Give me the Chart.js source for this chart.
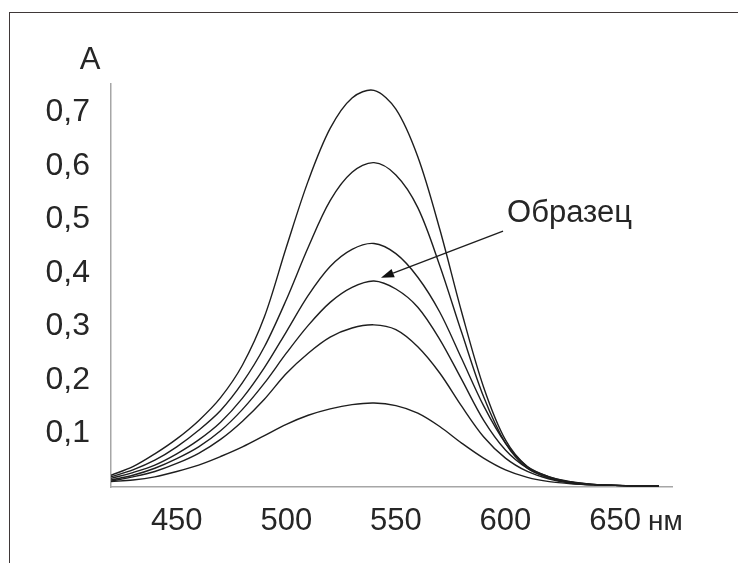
<!DOCTYPE html>
<html>
<head>
<meta charset="utf-8">
<script src="https://cdn.jsdelivr.net/npm/chart.js@4.4.1/dist/chart.umd.min.js"></script>
<style>
    body { margin: 0; background: #fff; }
    #wrap { position: relative; width: 738px; height: 563px; overflow: hidden; }
    #frame {
        position: absolute; left: 9px; top: 12px; width: 740px; height: 560px;
        border-top: 1.5px solid #3f3838; border-left: 1.5px solid #3f3838;
    }
    #spectra { position: absolute; left: 0; top: 0; }
</style>
</head>
<body>
<div id="wrap">
    <div id="frame"></div>
    <canvas id="spectra" width="738" height="563"></canvas>
</div>
<script>
// wavelength, nm
let wavelengths = [420, 430, 440, 450, 460, 470, 480, 490, 500, 510, 520, 530, 540,
    550, 560, 570, 580, 590, 600, 610, 620, 630, 640, 650, 660, 670]

// absorbance curves, top to bottom (curve4 is the sample)
let curve1 = [0.022, 0.038, 0.062, 0.090, 0.124, 0.167, 0.228, 0.318, 0.448, 0.572, 0.670, 0.727, 0.741,
    0.706, 0.617, 0.482, 0.327, 0.187, 0.088, 0.038, 0.019, 0.010, 0.005, 0.003, 0.002, 0.002]
let curve2 = [0.019, 0.032, 0.050, 0.075, 0.106, 0.143, 0.195, 0.262, 0.350, 0.448, 0.535, 0.588, 0.606,
    0.583, 0.522, 0.414, 0.289, 0.169, 0.082, 0.035, 0.017, 0.009, 0.005, 0.003, 0.002, 0.002]
let curve3 = [0.016, 0.027, 0.041, 0.062, 0.088, 0.121, 0.166, 0.223, 0.290, 0.358, 0.412, 0.444, 0.455,
    0.436, 0.392, 0.327, 0.240, 0.152, 0.082, 0.038, 0.019, 0.009, 0.005, 0.003, 0.002, 0.002]
let curve4 = [0.013, 0.022, 0.035, 0.053, 0.075, 0.105, 0.145, 0.194, 0.250, 0.302, 0.345, 0.373, 0.385,
    0.370, 0.336, 0.276, 0.201, 0.125, 0.069, 0.035, 0.017, 0.008, 0.004, 0.003, 0.002, 0.002]
let curve5 = [0.011, 0.019, 0.029, 0.044, 0.063, 0.089, 0.123, 0.164, 0.212, 0.250, 0.280, 0.297, 0.303,
    0.294, 0.262, 0.213, 0.151, 0.094, 0.054, 0.029, 0.015, 0.007, 0.004, 0.003, 0.002, 0.002]
let curve6 = [0.010, 0.013, 0.019, 0.029, 0.041, 0.057, 0.075, 0.096, 0.117, 0.134, 0.146, 0.154, 0.157,
    0.152, 0.138, 0.113, 0.082, 0.054, 0.032, 0.018, 0.010, 0.006, 0.004, 0.003, 0.002, 0.002]

// axis ticks
let xTicks = [450, 500, 550, 600, 650]
let yTicks = [0.1, 0.2, 0.3, 0.4, 0.5, 0.6, 0.7]

// arrow to the sample curve: tail -> tip, in data units
let sampleLabel = 'Образец'
let arrowFrom = [598.9, 0.478]
let arrowTo = [543.2, 0.391]

let fontFamily = "'Liberation Sans', Arial, sans-serif"
let ink = '#262626'

function toPoints(values) {
    return values.map(function(v, i) { return { x: wavelengths[i], y: v } })
}

let curves = [curve1, curve2, curve3, curve4, curve5, curve6]
let datasets = curves.map(function(c) {
    return {
        data: toPoints(c),
        borderColor: '#1e1e1e',
        borderWidth: 1.4,
        pointRadius: 0,
        fill: false,
        tension: 0.33
    }
})

// extra texts and the arrow
let extras = {
    id: 'extras',
    afterDraw: function(chart) {
        let ctx = chart.ctx
        let xs = chart.scales.x
        let ys = chart.scales.y
        ctx.save()
        ctx.fillStyle = ink
        ctx.font = '31px ' + fontFamily
        ctx.textBaseline = 'alphabetic'

        // axis names
        ctx.textAlign = 'center'
        ctx.fillText('A', 90, 69)
        ctx.textAlign = 'left'
        ctx.font = '28px ' + fontFamily
        ctx.fillText('нм', 648, 530)

        // sample label
        ctx.font = '31px ' + fontFamily
        ctx.fillText(sampleLabel, xs.getPixelForValue(arrowFrom[0]) + 4, ys.getPixelForValue(arrowFrom[1]) - 9)

        // arrow
        let x0 = xs.getPixelForValue(arrowFrom[0]), y0 = ys.getPixelForValue(arrowFrom[1])
        let x1 = xs.getPixelForValue(arrowTo[0]), y1 = ys.getPixelForValue(arrowTo[1])
        let ang = Math.atan2(y1 - y0, x1 - x0)
        let len = 13, half = 4.5
        let bx = x1 - len * Math.cos(ang), by = y1 - len * Math.sin(ang)
        ctx.strokeStyle = '#1e1e1e'
        ctx.lineWidth = 1.4
        ctx.beginPath()
        ctx.moveTo(x0, y0)
        ctx.lineTo(bx, by)
        ctx.stroke()
        ctx.fillStyle = '#111'
        ctx.beginPath()
        ctx.moveTo(x1, y1)
        ctx.lineTo(bx + half * Math.sin(ang), by - half * Math.cos(ang))
        ctx.lineTo(bx - half * Math.sin(ang), by + half * Math.cos(ang))
        ctx.closePath()
        ctx.fill()
        ctx.restore()
    }
}

let spectra = new Chart(document.getElementById('spectra'), {
    type: 'line',
    data: { datasets: datasets },
    plugins: [extras],
    options: {
        responsive: false,
        animation: false,
        events: [],
        layout: { padding: { top: 84, right: 66, left: 0, bottom: 0 } },
        plugins: {
            legend: { display: false },
            tooltip: { enabled: false }
        },
        scales: {
            x: {
                type: 'linear',
                min: 420,
                max: 676,
                afterBuildTicks: function(scale) {
                    scale.ticks = xTicks.map(function(v) { return { value: v } })
                },
                afterFit: function(scale) { scale.height = 76 },
                grid: { display: false, drawTicks: false },
                border: { display: true, color: '#a6a6a6', width: 1.5 },
                ticks: {
                    padding: 16,
                    maxRotation: 0,
                    autoSkip: false,
                    color: ink,
                    font: { family: fontFamily, size: 31 }
                }
            },
            y: {
                min: 0,
                max: 0.753,
                afterBuildTicks: function(scale) {
                    scale.ticks = yTicks.map(function(v) { return { value: v } })
                },
                afterFit: function(scale) { scale.width = 111 },
                grid: { display: false, drawTicks: false },
                border: { display: true, color: '#a6a6a6', width: 1.5 },
                ticks: {
                    padding: 21,
                    color: ink,
                    font: { family: fontFamily, size: 32 },
                    callback: function(v) { return v.toFixed(1).replace('.', ',') }
                }
            }
        }
    }
})
</script>
</body>
</html>
